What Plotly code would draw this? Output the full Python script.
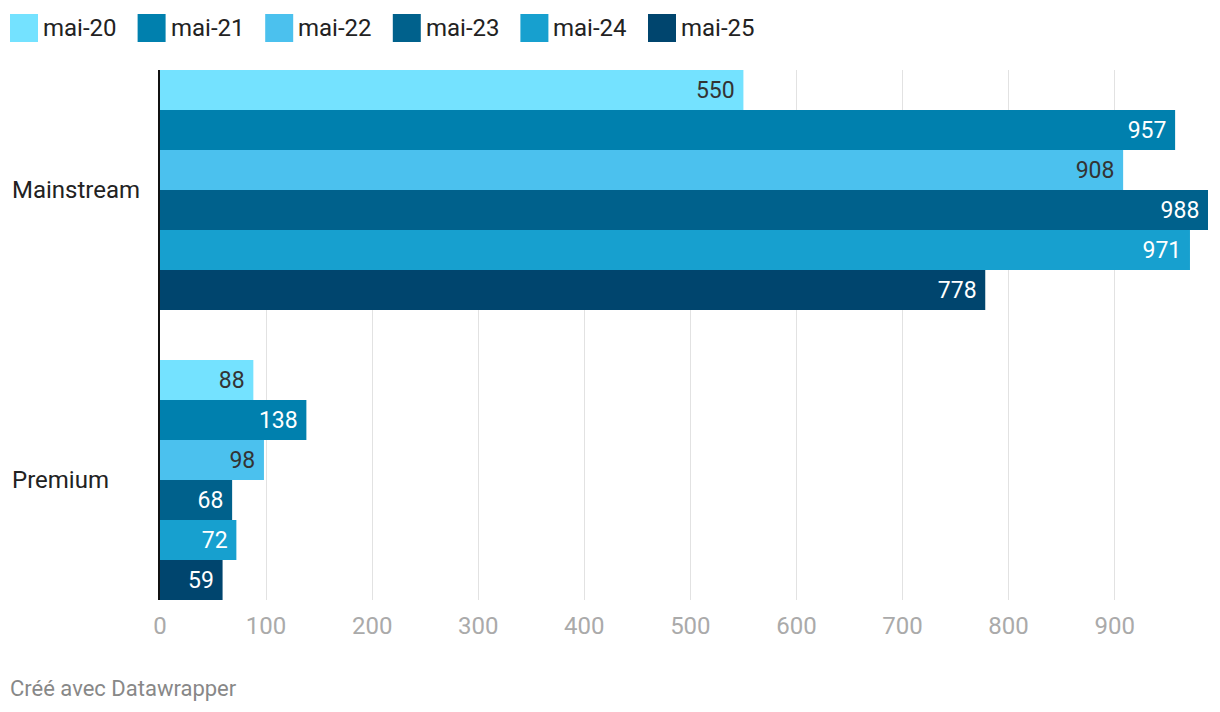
import plotly.graph_objects as go

# Data
categories = ['Mainstream', 'Premium']
periods = ['mai-20', 'mai-21', 'mai-22', 'mai-23', 'mai-24', 'mai-25']
values = {
    'mai-20': [550, 88],
    'mai-21': [957, 138],
    'mai-22': [908, 98],
    'mai-23': [988, 68],
    'mai-24': [971, 72],
    'mai-25': [778, 59],
}
colors = ['#74e2ff', '#0080ae', '#4bc1ee', '#00618c', '#17a0cf', '#00456e']
label_colors = ['#333333', '#ffffff', '#333333', '#ffffff', '#ffffff', '#ffffff']

# plot area in page pixels (the page body adds an 8px margin)
PL, PR, PT, PB = 160, 1208, 70, 600


def px_x(p):
    return (p - PL) / (PR - PL)


def px_y(p):
    return (PB - p) / (PB - PT)


fig = go.Figure()
for p, c, lc in zip(periods, colors, label_colors):
    fig.add_trace(go.Bar(
        y=categories, x=values[p], name=p, orientation='h',
        marker=dict(color=c, line=dict(width=0)),
        text=values[p], texttemplate='%{text}\u00a0',
        textposition='inside', insidetextanchor='end',
        textfont=dict(color=lc, size=23, family='Roboto'),
        textangle=0, cliponaxis=False, showlegend=False,
    ))

# category labels, left-aligned like the original
annotations = [
    dict(text=cat, x=px_x(10), xref='paper', y=cat, yref='y', xanchor='left',
         showarrow=False, font=dict(size=24, color='#222222', family='Roboto'))
    for cat in categories
]
annotations.append(dict(text='Créé avec Datawrapper', x=px_x(8), xref='paper', y=px_y(688), yref='paper',
                        xanchor='left', yanchor='middle', showarrow=False,
                        font=dict(size=22, color='#888888', family='Roboto')))

# legend: coloured squares with labels above the plot
shapes = []
for i, (p, c) in enumerate(zip(periods, colors)):
    x0 = 10 + 127.6 * i
    shapes.append(dict(type='rect', xref='paper', yref='paper',
                       x0=px_x(x0), x1=px_x(x0 + 28), y0=px_y(42), y1=px_y(14),
                       fillcolor=c, line=dict(width=0)))
    annotations.append(dict(text=p, x=px_x(x0 + 31), xref='paper', y=px_y(28), yref='paper',
                            xanchor='left', yanchor='middle', showarrow=False,
                            font=dict(size=24, color='#222222', family='Roboto')))

fig.update_layout(
    width=1212, height=704,
    margin=dict(l=PL - 8, r=1220 - PR, t=PT - 8, b=712 - PB),
    plot_bgcolor='white', paper_bgcolor='white',
    barmode='group', bargap=0.1724, bargroupgap=0,
    font=dict(family='Roboto', size=23, color='#222222'),
    xaxis=dict(range=[0, 988], tickvals=[0, 100, 200, 300, 400, 500, 600, 700, 800, 900],
               showgrid=True, gridcolor='#e2e2e2', gridwidth=1, zeroline=False,
               tickfont=dict(size=24, color='#aaaaaa'), ticks='', ticklabelstandoff=9),
    yaxis=dict(range=[1.4138, -0.4138], showticklabels=False, showgrid=False,
               showline=True, linecolor='#111111', linewidth=2, zeroline=False, ticks=''),
    annotations=annotations,
    shapes=shapes,
)

fig.write_html("out.html")
